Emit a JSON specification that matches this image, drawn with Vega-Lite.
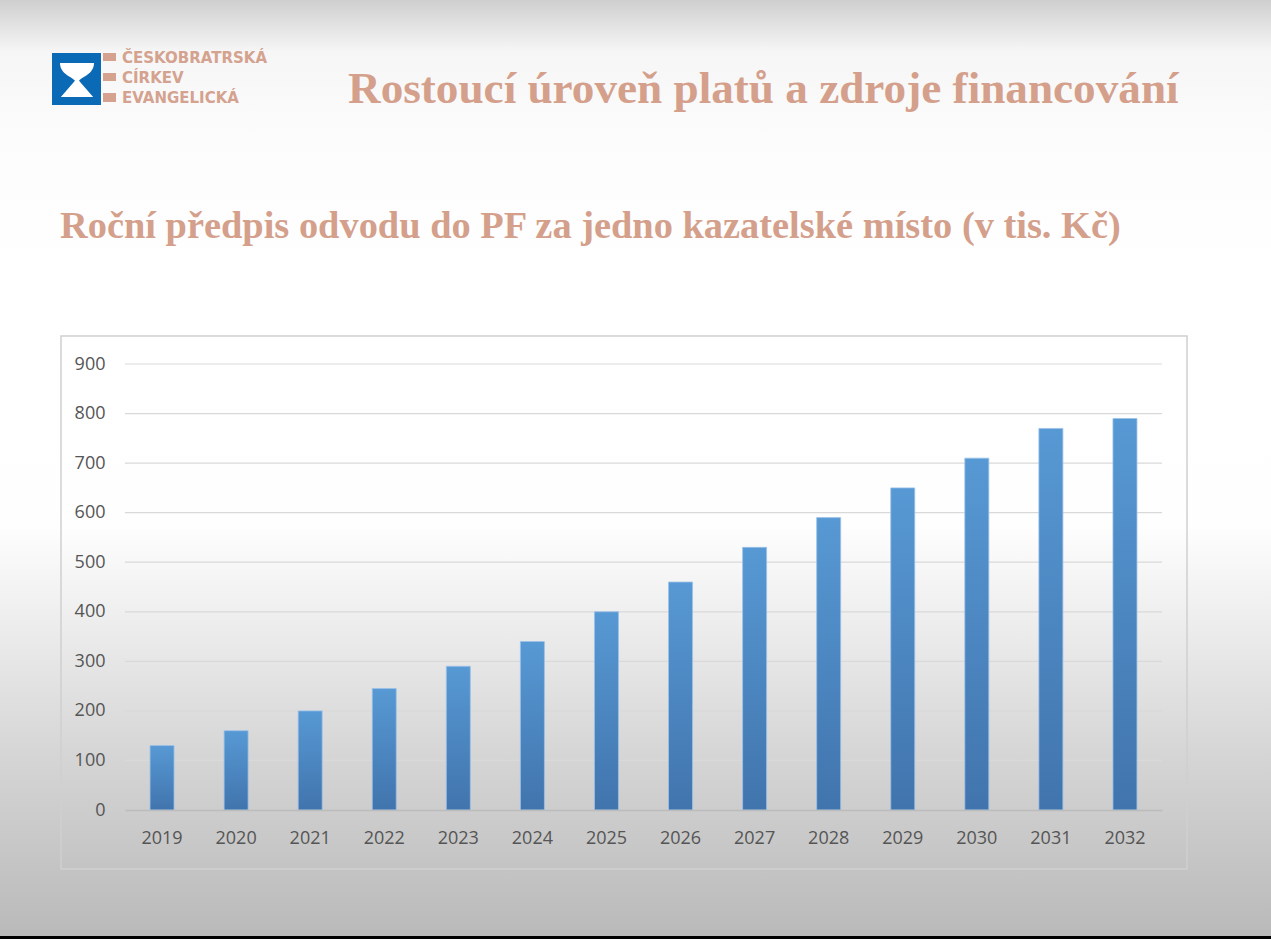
{
  "$schema": "https://vega.github.io/schema/vega-lite/v6.json",
  "width": 1037,
  "height": 446,
  "autosize": "none",
  "padding": {"left": 125, "top": 364, "right": 109, "bottom": 129},
  "background": "#ffffff",
  "title": {
    "text": "Roční předpis odvodu do PF za jedno kazatelské místo (v tis. Kč)",
    "font": "Liberation Serif",
    "fontSize": 38.4,
    "fontWeight": "bold",
    "color": "#d4a08b",
    "anchor": "start",
    "frame": "group",
    "baseline": "alphabetic",
    "dx": -65,
    "offset": -276
  },
  "config": {
    "view": {"stroke": null},
    "axis": {"labelFont": "Open Sans", "labelFontSize": 18, "labelColor": "#555555"}
  },
  "layer": [
    {
      "data": {"values": [{}]},
      "mark": {
        "type": "rect",
        "fill": {
          "gradient": "linear", "x1": 0, "y1": 0, "x2": 0, "y2": 1,
          "stops": [
            {"offset": 0, "color": "#cfcfcf"},
            {"offset": 0.055, "color": "#f6f6f6"},
            {"offset": 0.15, "color": "#fcfcfc"},
            {"offset": 0.3, "color": "#ffffff"},
            {"offset": 0.56, "color": "#fefefe"},
            {"offset": 0.67, "color": "#ececec"},
            {"offset": 0.8, "color": "#d6d6d6"},
            {"offset": 1, "color": "#b9b9b9"}
          ]
        }
      },
      "encoding": {
        "x": {"value": -125}, "x2": {"value": 1146},
        "y": {"value": -364}, "y2": {"value": 575}
      }
    },
    {
      "data": {"values": [{}]},
      "mark": {"type": "rect", "fill": null, "stroke": "#cfcfcf", "strokeWidth": 1.5},
      "encoding": {
        "x": {"value": -64}, "x2": {"value": 1062},
        "y": {"value": -28}, "y2": {"value": 505}
      }
    },
    {
      "data": {
        "values": [
          {"mrizka": 100}, {"mrizka": 200}, {"mrizka": 300}, {"mrizka": 400}, {"mrizka": 500},
          {"mrizka": 600}, {"mrizka": 700}, {"mrizka": 800}, {"mrizka": 900}
        ]
      },
      "mark": {"type": "rule", "color": "#d9d9d9", "strokeWidth": 1.2},
      "encoding": {
        "y": {"field": "mrizka", "type": "quantitative"}
      }
    },
    {
      "data": {
        "values": [
          {"rok": "2019", "odvod": 130},
          {"rok": "2020", "odvod": 160},
          {"rok": "2021", "odvod": 200},
          {"rok": "2022", "odvod": 245},
          {"rok": "2023", "odvod": 290},
          {"rok": "2024", "odvod": 340},
          {"rok": "2025", "odvod": 400},
          {"rok": "2026", "odvod": 460},
          {"rok": "2027", "odvod": 530},
          {"rok": "2028", "odvod": 590},
          {"rok": "2029", "odvod": 650},
          {"rok": "2030", "odvod": 710},
          {"rok": "2031", "odvod": 770},
          {"rok": "2032", "odvod": 790}
        ]
      },
      "mark": {
        "type": "bar",
        "stroke": "#9cc2e8",
        "strokeWidth": 0.8,
        "fill": {
          "gradient": "linear", "x1": 0, "y1": 1, "x2": 0, "y2": 0,
          "stops": [
            {"offset": 0, "color": "#4174ad"},
            {"offset": 1, "color": "#5799d4"}
          ]
        }
      },
      "encoding": {
        "x": {
          "field": "rok", "type": "ordinal",
          "scale": {"paddingInner": 0.676, "paddingOuter": 0.338},
          "axis": {
            "title": null, "ticks": false, "labelAngle": 0, "labelPadding": 19,
            "domainColor": "#bcbcbc", "domainWidth": 1.5, "zindex": 2
          }
        },
        "y": {
          "field": "odvod", "type": "quantitative",
          "scale": {"domain": [0, 900]},
          "axis": {
            "title": null, "values": [0, 100, 200, 300, 400, 500, 600, 700, 800, 900],
            "ticks": false, "domain": false, "grid": false, "labelPadding": 20, "zindex": 2
          }
        }
      }
    },
    {
      "data": {"values": [{}]},
      "mark": {"type": "rect", "fill": "#0b6ab6"},
      "encoding": {
        "x": {"value": -73}, "x2": {"value": -24},
        "y": {"value": -311}, "y2": {"value": -259}
      }
    },
    {
      "data": {"values": [{}]},
      "mark": {"type": "rect", "fill": "#d4a28e"},
      "encoding": {
        "x": {"value": -22}, "x2": {"value": -9},
        "y": {"value": -311}, "y2": {"value": -303}
      }
    },
    {
      "data": {"values": [{}]},
      "mark": {"type": "rect", "fill": "#d4a28e"},
      "encoding": {
        "x": {"value": -22}, "x2": {"value": -9},
        "y": {"value": -291}, "y2": {"value": -283}
      }
    },
    {
      "data": {"values": [{}]},
      "mark": {"type": "rect", "fill": "#d4a28e"},
      "encoding": {
        "x": {"value": -22}, "x2": {"value": -9},
        "y": {"value": -271}, "y2": {"value": -262}
      }
    },
    {
      "data": {"values": [{}]},
      "mark": {
        "type": "point", "filled": true, "fill": "#ffffff", "opacity": 1, "strokeWidth": 0,
        "size": 1156,
        "shape": "M-1,-1 L1,-1 C1,-0.35 0.3,-0.2 0.12,0.05 L0.95,1 L-0.95,1 L-0.12,0.05 C-0.3,-0.2 -1,-0.35 -1,-1 Z"
      },
      "encoding": {"x": {"value": -48}, "y": {"value": -284}}
    },
    {
      "data": {"values": [{}]},
      "mark": {"type": "text", "text": "ČESKOBRATRSKÁ", "font": "DejaVu Sans", "fontWeight": "bold", "fontSize": 15, "color": "#d4a28e", "align": "left", "baseline": "alphabetic"},
      "encoding": {"x": {"value": -3}, "y": {"value": -301}}
    },
    {
      "data": {"values": [{}]},
      "mark": {"type": "text", "text": "CÍRKEV", "font": "DejaVu Sans", "fontWeight": "bold", "fontSize": 15, "color": "#d4a28e", "align": "left", "baseline": "alphabetic"},
      "encoding": {"x": {"value": -3}, "y": {"value": -281}}
    },
    {
      "data": {"values": [{}]},
      "mark": {"type": "text", "text": "EVANGELICKÁ", "font": "DejaVu Sans", "fontWeight": "bold", "fontSize": 15, "color": "#d4a28e", "align": "left", "baseline": "alphabetic"},
      "encoding": {"x": {"value": -3}, "y": {"value": -261}}
    },
    {
      "data": {"values": [{}]},
      "mark": {"type": "text", "text": "Rostoucí úroveň platů a zdroje financování", "font": "Liberation Serif", "fontWeight": "bold", "fontSize": 45.2, "color": "#d4a08b", "align": "left", "baseline": "alphabetic"},
      "encoding": {"x": {"value": 223}, "y": {"value": -261}}
    },
    {
      "data": {"values": [{}]},
      "mark": {"type": "rect", "fill": "#000000"},
      "encoding": {
        "x": {"value": -125}, "x2": {"value": 1146},
        "y": {"value": 572}, "y2": {"value": 575}
      }
    }
  ]
}
